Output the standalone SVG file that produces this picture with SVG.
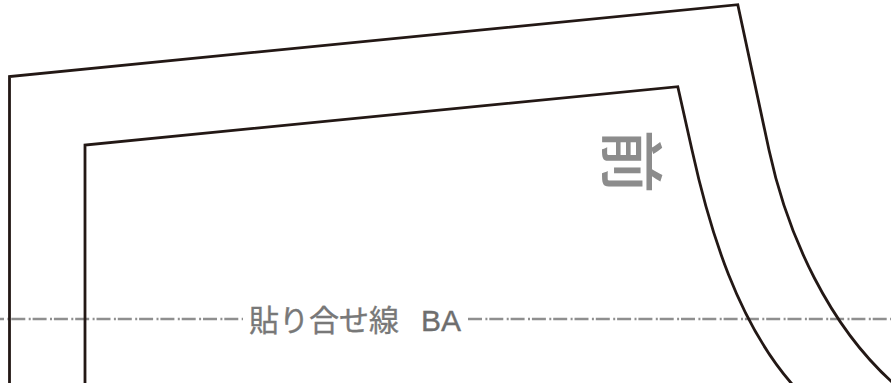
<svg xmlns="http://www.w3.org/2000/svg" width="891" height="383" viewBox="0 0 891 383">
<style>
.cut{fill:none;stroke:#231815;stroke-width:2.8}
.fold{fill:none;stroke:#8f8f8f;stroke-width:2.6;stroke-dasharray:14 3.4 2 1.9}
.t{fill:#787878;stroke:#787878;stroke-width:.35;font-family:"Noto Sans CJK JP",sans-serif}
.g{fill:#8c8c8c;font-family:"Noto Sans CJK JP",sans-serif;font-weight:500}
.l{fill:#6e6e6e;stroke:#6e6e6e;stroke-width:.35;font-family:"Liberation Sans",sans-serif}
</style>
<rect width="891" height="383" fill="#fff"/>
<g id="connectors">
<path class="fold" d="M-10 319H243"/>
<path class="fold" d="M468 319H891"/>
</g>
<g id="outer-outline"><path class="cut" d="M9.5 384V76.5L737.8 4.7L769 150C788 238 830 326 892 382"/></g>
<g id="inner-outline"><path class="cut" d="M85 384V145L677.8 86.7L692 150C710 232 738 322 792 384"/></g>
<g id="front-label"><text class="g" font-size="64" text-anchor="middle" transform="translate(608 161.5) rotate(90)">前</text></g>
<g id="fold-label"><text class="t" font-size="30" x="249" y="331">貼り合せ線</text><text class="l" font-size="30" x="421" y="331">BA</text></g>
</svg>
